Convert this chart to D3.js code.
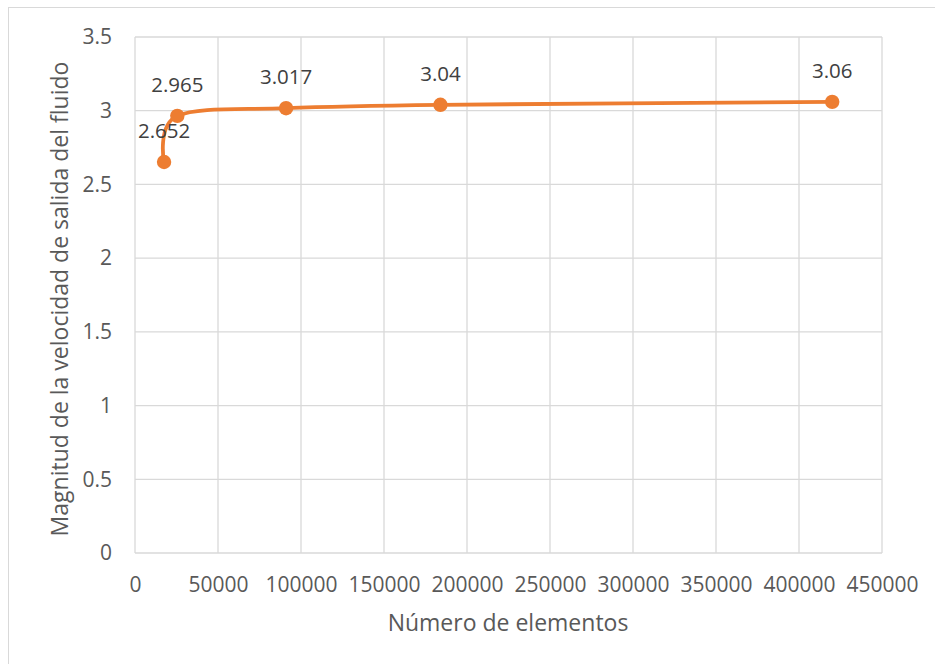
<!DOCTYPE html>
<html>
<head>
<meta charset="utf-8">
<script src="https://cdn.jsdelivr.net/npm/d3@7"></script>
<style>
  html, body { margin: 0; padding: 0; background: #fff; }
  svg { display: block; font-family: "Open Sans", sans-serif; }
</style>
</head>
<body>
<svg id="chart" width="935" height="664"></svg>
<script>
// Mesh convergence: outlet velocity magnitude vs number of elements
const elementos = [17500, 25500, 91000, 184000, 420000];
const velocidad = [2.652, 2.965, 3.017, 3.04, 3.06];
const xTicks = [0, 50000, 100000, 150000, 200000, 250000, 300000, 350000, 400000, 450000];
const yTicks = [0, 0.5, 1, 1.5, 2, 2.5, 3, 3.5];

const svg = d3.select("#chart");
const W = 935, H = 664;
const plot = { left: 135, right: 882, top: 37, bottom: 553 };
const orange = "#ED7D31";

// chart frame
svg.append("rect")
  .attr("x", 8.5).attr("y", 7.5)
  .attr("width", W).attr("height", H)
  .attr("fill", "#fff").attr("stroke", "#d9d9d9").attr("stroke-width", 1);

const x = d3.scaleLinear().domain([0, 450000]).range([plot.left, plot.right]);
const y = d3.scaleLinear().domain([0, 3.5]).range([plot.bottom, plot.top]);

// gridlines
const grid = svg.append("g");
grid.selectAll("line.v").data(xTicks).join("line")
  .attr("x1", d => x(d)).attr("x2", d => x(d))
  .attr("y1", plot.top).attr("y2", plot.bottom)
  .attr("stroke", "#d9d9d9").attr("stroke-width", 1.3);
grid.selectAll("line.h").data(yTicks).join("line")
  .attr("x1", plot.left).attr("x2", plot.right)
  .attr("y1", d => y(d)).attr("y2", d => y(d))
  .attr("stroke", "#d9d9d9").attr("stroke-width", 1.3);

// axes (labels only)
const xAxis = svg.append("g").attr("transform", `translate(0,${plot.bottom})`)
  .call(d3.axisBottom(x).tickValues(xTicks).tickFormat(d3.format("d")).tickSize(0).tickPadding(24));
const yAxis = svg.append("g").attr("transform", `translate(${plot.left},0)`)
  .call(d3.axisLeft(y).tickValues(yTicks).tickFormat(d => String(d)).tickSize(0).tickPadding(23));
[xAxis, yAxis].forEach(a => {
  a.select(".domain").remove();
  a.selectAll("text").attr("font-family", "Open Sans, sans-serif")
    .attr("font-size", 21).attr("fill", "#595959");
});
yAxis.selectAll("text").attr("text-anchor", "end");

// axis titles
svg.append("text")
  .attr("x", 508).attr("y", 631)
  .attr("text-anchor", "middle").attr("font-size", 23).attr("fill", "#595959")
  .text("Número de elementos");
svg.append("text")
  .attr("transform", `translate(68,299) rotate(-90)`)
  .attr("text-anchor", "middle").attr("font-size", 23).attr("fill", "#595959")
  .text("Magnitud de la velocidad de salida del fluido");

// smoothed series line
const pts = elementos.map((e, i) => [e, velocidad[i]]);
const line = d3.line().x(d => x(d[0])).y(d => y(d[1])).curve(d3.curveCardinal.tension(0));
svg.append("path").datum(pts)
  .attr("d", line).attr("fill", "none")
  .attr("stroke", orange).attr("stroke-width", 3.8).attr("stroke-linecap", "round");

// markers
svg.selectAll("circle.pt").data(pts).join("circle")
  .attr("cx", d => x(d[0])).attr("cy", d => y(d[1])).attr("r", 7.2)
  .attr("fill", orange);

// data labels
svg.selectAll("text.lbl").data(pts).join("text")
  .attr("x", d => x(d[0])).attr("y", d => y(d[1]) - 24)
  .attr("text-anchor", "middle").attr("font-size", 20.5).attr("fill", "#404040")
  .text(d => String(d[1]));
</script>
</body>
</html>
